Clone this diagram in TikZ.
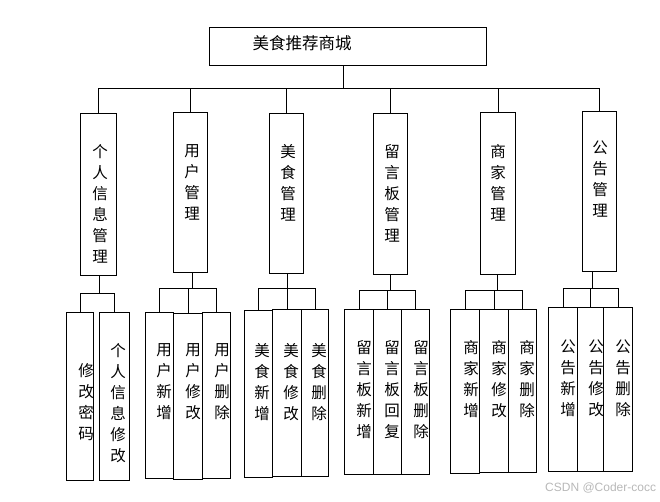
\documentclass[tikz,border=0pt]{standalone}
\usepackage{fontspec}
\newfontfamily\cjk{Noto Sans CJK SC}
\newfontfamily\wmfont{Liberation Sans}
\begin{document}
\begin{tikzpicture}[x=1pt,y=-1pt,
  box/.style={draw,line width=0.8pt,inner sep=0pt,anchor=north west},
  txt/.style={font=\cjk\fontsize{15.5}{21}\selectfont,align=center,inner sep=0pt,anchor=north},
  link/.style={line width=0.8pt}]
\useasboundingbox (0,0) rectangle (660,501);

% top box
\node[box,minimum width=277pt,minimum height=38pt](root) at (209,27) {};
\node[font=\cjk\fontsize{16.5}{16.5}\selectfont,inner sep=0pt](troot) at (302,43) {美食推荐商城};

% second row
\node[box,minimum width=36pt,minimum height=162pt](m1) at (80,113) {};
\node[box,minimum width=34pt,minimum height=160pt](m2) at (173,112) {};
\node[box,minimum width=34pt,minimum height=160pt](m3) at (269,113) {};
\node[box,minimum width=34pt,minimum height=161pt](m4) at (373,113) {};
\node[box,minimum width=35pt,minimum height=162pt](m5) at (480,112) {};
\node[box,minimum width=34pt,minimum height=160pt](m6) at (582,111) {};
\node[txt](t1) at (100,144) {个\\人\\信\\息\\管\\理};
\node[txt](t2) at (192,144) {用\\户\\管\\理};
\node[txt](t3) at (288,144) {美\\食\\管\\理};
\node[txt](t4) at (392,144) {留\\言\\板\\管\\理};
\node[txt](t5) at (498,144) {商\\家\\管\\理};
\node[txt](t6) at (600,141) {公\\告\\管\\理};

% leaves
\node[box,minimum width=27pt,minimum height=168pt](a1) at (66,312) {};
\node[box,minimum width=30pt,minimum height=168pt](a2) at (99,312) {};
\node[box,minimum width=28pt,minimum height=166pt](b1) at (145,312) {};
\node[box,minimum width=29pt,minimum height=166pt](b2) at (173,313) {};
\node[box,minimum width=28pt,minimum height=166pt](b3) at (202,312) {};
\node[box,minimum width=28pt,minimum height=167pt](c1) at (244,310) {};
\node[box,minimum width=29pt,minimum height=167pt](c2) at (272,309) {};
\node[box,minimum width=27pt,minimum height=167pt](c3) at (301,309) {};
\node[box,minimum width=29pt,minimum height=165pt](d1) at (344,309) {};
\node[box,minimum width=28pt,minimum height=165pt](d2) at (373,309) {};
\node[box,minimum width=28pt,minimum height=165pt](d3) at (401,309) {};
\node[box,minimum width=29pt,minimum height=164pt](e1) at (450,309) {};
\node[box,minimum width=29pt,minimum height=163pt](e2) at (479,309) {};
\node[box,minimum width=28pt,minimum height=163pt](e3) at (508,309) {};
\node[box,minimum width=29pt,minimum height=164pt](f1) at (548,307) {};
\node[box,minimum width=26pt,minimum height=164pt](f2) at (577,307) {};
\node[box,minimum width=29pt,minimum height=164pt](f3) at (603,307) {};

\node[txt](ta1) at (86,363) {修\\改\\密\\码};
\node[txt](ta2) at (118,343) {个\\人\\信\\息\\修\\改};
\node[txt](tb1) at (164,343) {用\\户\\新\\增};
\node[txt](tb2) at (193,343) {用\\户\\修\\改};
\node[txt](tb3) at (222,343) {用\\户\\删\\除};
\node[txt](tc1) at (262,343) {美\\食\\新\\增};
\node[txt](tc2) at (291,343) {美\\食\\修\\改};
\node[txt](tc3) at (319,343) {美\\食\\删\\除};
\node[txt](td1) at (364,340) {留\\言\\板\\新\\增};
\node[txt](td2) at (392,340) {留\\言\\板\\回\\复};
\node[txt](td3) at (421,340) {留\\言\\板\\删\\除};
\node[txt](te1) at (471,340) {商\\家\\新\\增};
\node[txt](te2) at (499,340) {商\\家\\修\\改};
\node[txt](te3) at (527,340) {商\\家\\删\\除};
\node[txt](tf1) at (568,340) {公\\告\\新\\增};
\node[txt](tf2) at (596,340) {公\\告\\修\\改};
\node[txt](tf3) at (623,340) {公\\告\\删\\除};

% connectors
\coordinate (bus) at (343,88);
\draw[link] (root.south -| bus) -- (bus);
\draw[link] (m1.north |- bus) -- (m6.north |- bus);
\foreach \i in {1,...,6}
  \draw[link] (m\i.north |- bus) -- (m\i.north);

\coordinate (h1) at (99,293);
\coordinate (h2) at (192,288);
\coordinate (h3) at (287,288);
\coordinate (h4) at (390,290);
\coordinate (h5) at (497,290);
\coordinate (h6) at (592,288);
\foreach \i in {1,...,6}
  \draw[link] (m\i.south -| h\i) -- (h\i);
\draw[link] (a1.north) -- (a1.north |- h1) -- (a2.north |- h1) -- (a2.north);
\foreach \g/\n in {b/2,c/3,d/4,e/5,f/6}{
  \draw[link] (\g1.north) -- (\g1.north |- h\n) -- (\g3.north |- h\n) -- (\g3.north);
  \draw[link] (\g2.north |- h\n) -- (\g2.north);
}

\node[font=\wmfont\fontsize{12}{12}\selectfont,text=black!28,inner sep=0pt,anchor=west](wm) at (545,488) {CSDN @Coder-cocc};
\end{tikzpicture}
\end{document}
